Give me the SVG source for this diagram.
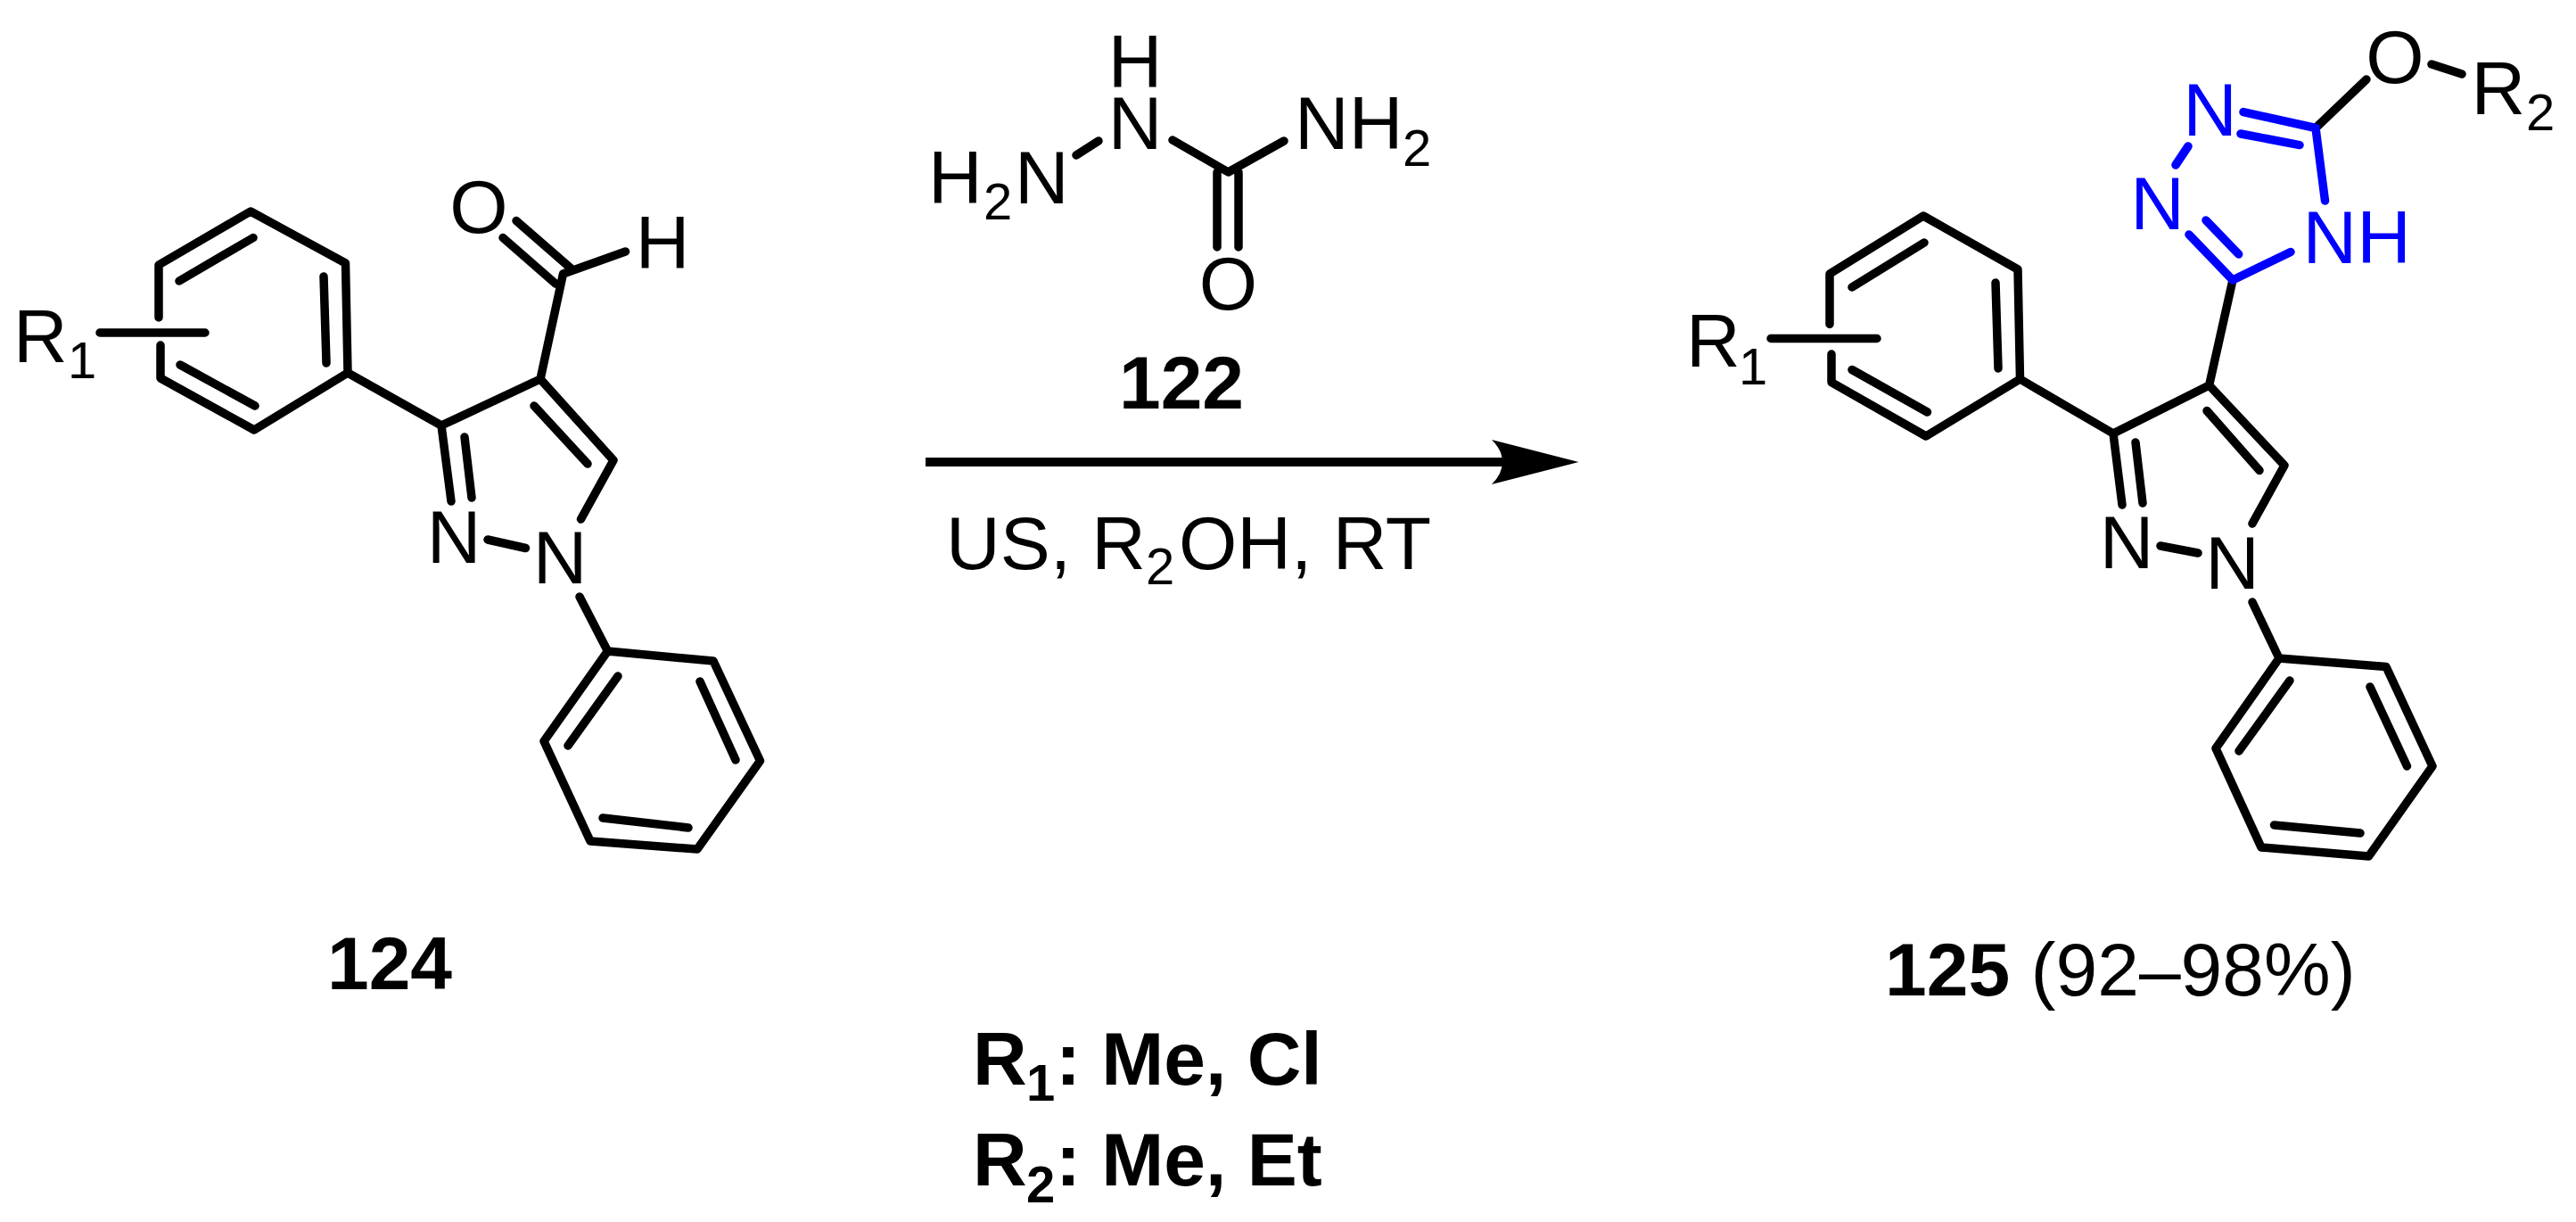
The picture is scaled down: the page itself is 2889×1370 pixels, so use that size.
<svg xmlns="http://www.w3.org/2000/svg" width="2889" height="1370" viewBox="0 0 2889 1370">
<style>
text{font-family:"Liberation Sans",Arial,sans-serif;font-size:84px;fill:#000}
.s{font-size:58px}
.bd{font-weight:700}
.m{text-anchor:middle}
.blue{fill:#0000ff}
.bond{fill:none;stroke:#000;stroke-width:9.500;stroke-linecap:round;stroke-linejoin:round}
.bb{fill:none;stroke:#0000ff;stroke-width:9.500;stroke-linecap:round;stroke-linejoin:round}
</style>
<rect width="2889" height="1370" fill="#fff"/>
<g id="compound-124">
<path class="bond" d="M178 356L178 297L281 237L387.500 295L390 418L285 482L180 424L180 387M284 266.500L201 315M363 310L366 407M202 409L286 455M112 373L230 373M390 418L495 477L606 425L688 516L651.500 582M495 477L506 562M521 490L529 558M599 455L659 520M547 605L589.500 614.500M650 669L681.500 730L800 741L852.500 853L782 952L662 943L610 831L681.500 730M693 758L637 836M785 764L825 852M676 917L772 928M606 425L631.500 307L701.500 282M579 247.500L640 300.700M564 266.500L623 318"/>
<text x="15" y="406">R<tspan class="s" x="76" y="424">1</tspan></text>
<text class="m" x="537" y="261">O</text>
<text class="m" x="743" y="301">H</text>
<text class="m" x="509" y="631">N</text>
<text class="m" x="628" y="654">N</text>
<text class="bd m" x="437" y="1109">124</text>
</g>
<g id="compound-122">
<path class="bond" d="M1207 174L1232 158M1315 157L1377.500 193L1440 158M1365 193L1365 277M1389 193L1389 277"/>
<text class="m" x="1273" y="97.500">H<tspan x="1273" y="167">N</tspan></text>
<text x="1452" y="167">NH<tspan class="s" x="1573" y="185.500">2</tspan></text>
<text x="1041" y="227.500">H<tspan class="s" x="1103" y="246">2</tspan><tspan x="1138" y="227.500">N</tspan></text>
<text class="m" x="1377.500" y="347">O</text>
<text class="bd m" x="1325" y="457.500">122</text>
</g>
<g id="compound-125">
<path class="bond" d="M2052 363.500L2052 307L2157 242L2263 302L2265.500 425L2160 489L2054 428.600L2054 397M2158 272L2077 322M2238 317L2241 413M2077 414.500L2161.500 462M1986 379.500L2105 379.500M2265.500 425L2370 486L2477.600 432L2562 521.700L2526 587M2370 486L2380 566M2395 496L2403 564M2475 460.500L2534 527.400M2423 612L2465 620M2526 675L2556 738L2676 747.400L2728 859L2656.500 960L2536 950L2485 839L2556 738M2568 763L2511 842M2658 770L2699.500 859M2550.500 925L2647 934M2477.600 432L2504 314M2597 143.500L2654 89M2727 72L2761 83"/>
<path class="bb" d="M2569 282.500L2504 314L2455 263M2510.700 285L2474 247M2440 185L2454 164M2516 125.600L2597 143.500L2607.500 225M2579 162.600L2513 150"/>
<text x="1891" y="411">R<tspan class="s" x="1950" y="430.500">1</tspan></text>
<text class="m" x="2385" y="636.500">N</text>
<text class="m" x="2503.500" y="660">N</text>
<text class="m" x="2686" y="93">O</text>
<text x="2771.500" y="128">R<tspan class="s" x="2833" y="146">2</tspan></text>
<text class="blue m" x="2478.500" y="152">N</text>
<text class="blue m" x="2419.500" y="257">N</text>
<text class="blue" x="2582.500" y="295">NH</text>
<text x="2114" y="1116"><tspan class="bd">125</tspan> (92–98%)</text>
</g>
<g id="connectors">
<path d="M1038 513L1690 513L1690 523L1038 523Z" fill="#000"/>
<path d="M1770.500 518L1673 493Q1685 505 1685 518Q1685 531 1673 543Z" fill="#000"/>
</g>
<g id="conditions">
<text x="1061" y="637.500">US, R<tspan class="s" x="1285" y="655">2</tspan><tspan x="1322" y="637.500">OH, RT</tspan></text>
<text class="bd" x="1091" y="1216">R<tspan class="s" x="1151" y="1234">1</tspan><tspan x="1184" y="1216">: Me, Cl</tspan></text>
<text class="bd" x="1091" y="1329">R<tspan class="s" x="1151" y="1348">2</tspan><tspan x="1184" y="1329">: Me, Et</tspan></text>
</g>
</svg>
